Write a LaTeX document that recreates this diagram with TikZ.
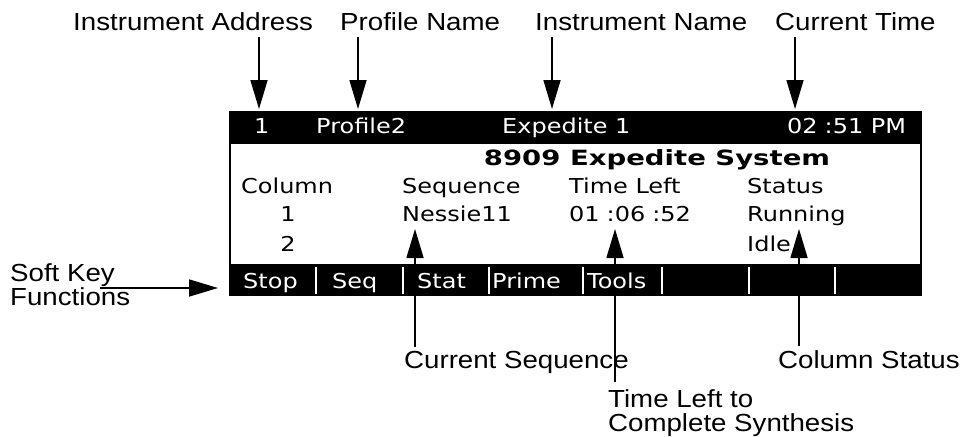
\documentclass[tikz,border=0pt]{standalone}
\usepackage{fontspec}
\setmainfont{Liberation Sans}
\newfontfamily\lcdfont[FakeStretch=1.17]{DejaVu Sans}
\newfontfamily\lcdbold[FakeStretch=1.31]{DejaVu Sans}
\newfontfamily\lblfont[FakeStretch=1.12]{Liberation Sans}
\usetikzlibrary{arrows.meta,calc,positioning}
\tikzset{pin/.style={line width=1.6pt, -{Triangle[length=29pt,width=17pt]}},
  lbl/.style={font=\lblfont\fontsize{24.7}{24.5}\selectfont, inner sep=0pt, align=left},
  lcd/.style={font=\lcdfont\fontsize{20.5}{21}\selectfont, inner sep=0pt, anchor=base west},
  lcdinv/.style={lcd, text=white}}
\newcommand\lcdcolon{\kern7pt:}

\begin{document}
\begin{tikzpicture}[x=1pt, y=-1pt]
  \useasboundingbox (0,0) rectangle (965,436);
  % display frame and title bar
  \draw[line width=2pt] (230,143) rectangle (921,265);
  \fill (229,111) rectangle (922,143);
  \node[lcdinv] (addr) at (254,133) {1};
  \node[lcdinv] (prof) at (316,133) {Profile2};
  \node[lcdinv] (inst) at (502,133) {Expedite 1};
  \node[lcdinv] (clock) at (787,133) {02\lcdcolon51 PM};
  % body of the screen
  \node[lcd, font=\lcdbold\bfseries\fontsize{21}{21}\selectfont, anchor=base] (title) at (657,165) {8909 Expedite System};
  \node[lcd] (hcol) at (241,193) {Column};
  \node[lcd] (hseq) at (402,193) {Sequence};
  \node[lcd] (htime) at (569,193) {Time Left};
  \node[lcd] (hstat) at (747,193) {Status};
  \node[lcd, anchor=base] (col1) at (288,221) {1};
  \node[lcd] (seq1) at (402,221) {Nessie11};
  \node[lcd] (left1) at (569,221) {01\lcdcolon06\lcdcolon52};
  \node[lcd] (stat1) at (747,221) {Running};
  \node[lcd, anchor=base] (col2) at (288,251) {2};
  \node[lcd] (stat2) at (747,251) {Idle};
  % labels round the screen
  \node[lbl, anchor=base west] (lAddr) at (73,31) {Instrument Address};
  \node[lbl, anchor=base west] (lProf) at (340,31) {Profile Name};
  \node[lbl, anchor=base west] (lInst) at (535,31) {Instrument Name};
  \node[lbl, anchor=base west] (lTime) at (775,31) {Current Time};
  \node[lbl, anchor=north west] (lSoft) at (10,263) {Soft Key\\Functions};
  \node[lbl, anchor=base west] (lCurSeq) at (404,368) {Current Sequence};
  \node[lbl, anchor=base west] (lColStat) at (778,368) {Column Status};
  \node[lbl, anchor=north west] (lLeft) at (608,389) {Time Left to\\Complete Synthesis};
  % arrow tips
  \coordinate (tAddr) at (259,109);
  \coordinate (tProf) at (358,109);
  \coordinate (tInst) at (552,109);
  \coordinate (tTime) at (795,109);
  \coordinate (tSoft) at (218,288);
  \coordinate (tSeq) at (415,229);
  \coordinate (tLeft) at (615,229);
  \coordinate (tStat) at (799,229);
  \foreach \l/\t in {lAddr/tAddr, lProf/tProf, lInst/tInst, lTime/tTime}{\draw[pin] (\l.south -| \t) ++(0,6) -- (\t);}
  \draw[pin] (lSoft.west |- tSoft) ++(90,0) -- (tSoft);
  \draw[pin] (lCurSeq.north -| tSeq) ++(0,-4) -- (tSeq);
  \draw[pin] (lColStat.north -| tStat) ++(0,-4) -- (tStat);
  \draw[pin] (lLeft.north -| tLeft) ++(0,-7) -- (tLeft);
  % soft key bar
  \fill (229,265) rectangle (922,296);
  \foreach \x/\k in {243/Stop, 332/Seq, 417/Stat, 492/Prime, 587/Tools}{\node[lcdinv] (key\k) at (\x,288) {\k};}
  \foreach \x in {316,403,489,583,662,749,835}{\draw[white, line width=2pt] (\x,267) -- (\x,294);}
\end{tikzpicture}
\end{document}
